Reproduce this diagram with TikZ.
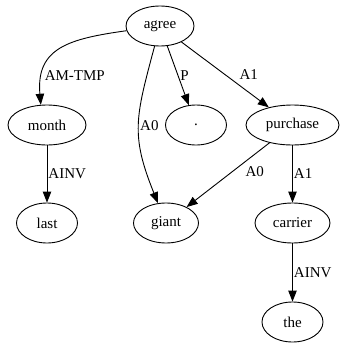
\documentclass[tikz,border=0pt]{standalone}
\usepackage{fontspec}
\setmainfont{Liberation Serif}
\usetikzlibrary{arrows.meta,positioning,shapes.geometric}

\begin{document}
\begin{tikzpicture}[x=1pt,y=-1pt,
  tok/.style={draw,ellipse,line width=0.9pt,minimum width=61pt,minimum height=40pt,inner sep=0pt,font=\fontsize{15}{18}\selectfont},
  rel/.style={-{Triangle[length=11pt,width=8.5pt]},line width=0.9pt},
  lbl/.style={font=\fontsize{15}{18}\selectfont,inner sep=2pt,anchor=west}]
  \useasboundingbox (0,0) rectangle (340,343);
  \node[tok,minimum width=68pt] (agree) at (160,26) {agree};
  \node[tok,minimum width=78pt] (month) at (47,125) {month};
  \node[tok] (dot) at (196,125) {.};
  \node[tok,minimum width=93pt] (purchase) at (292.5,125) {purchase};
  \node[tok] (last) at (47,223) {last};
  \node[tok,minimum width=65pt] (giant) at (166,223) {giant};
  \node[tok,minimum width=75pt] (carrier) at (292.5,223) {carrier};
  \node[tok] (the) at (292.5,322) {the};
  \draw[rel] (agree.188) to[out=188,in=95,looseness=1.3] node[lbl,pos=0.8] {AM-TMP} (month.107);
  \draw[rel] (agree.-105) to[out=-105,in=112,looseness=1.2] node[lbl,pos=0.5,inner sep=1pt] {A0} (giant.112);
  \draw[rel] (agree) -- node[lbl,pos=0.5] {P} (dot);
  \draw[rel] (agree) -- node[lbl,pos=0.5,xshift=12pt] {A1} (purchase);
  \draw[rel] (month) -- node[lbl,pos=0.5,inner sep=1pt] {AINV} (last);
  \draw[rel] (purchase) -- node[lbl,pos=0.45,xshift=11pt] {A0} (giant);
  \draw[rel] (purchase) -- node[lbl,pos=0.5,inner sep=1pt] {A1} (carrier);
  \draw[rel] (carrier) -- node[lbl,pos=0.5,inner sep=1pt] {AINV} (the);
\end{tikzpicture}
\end{document}
